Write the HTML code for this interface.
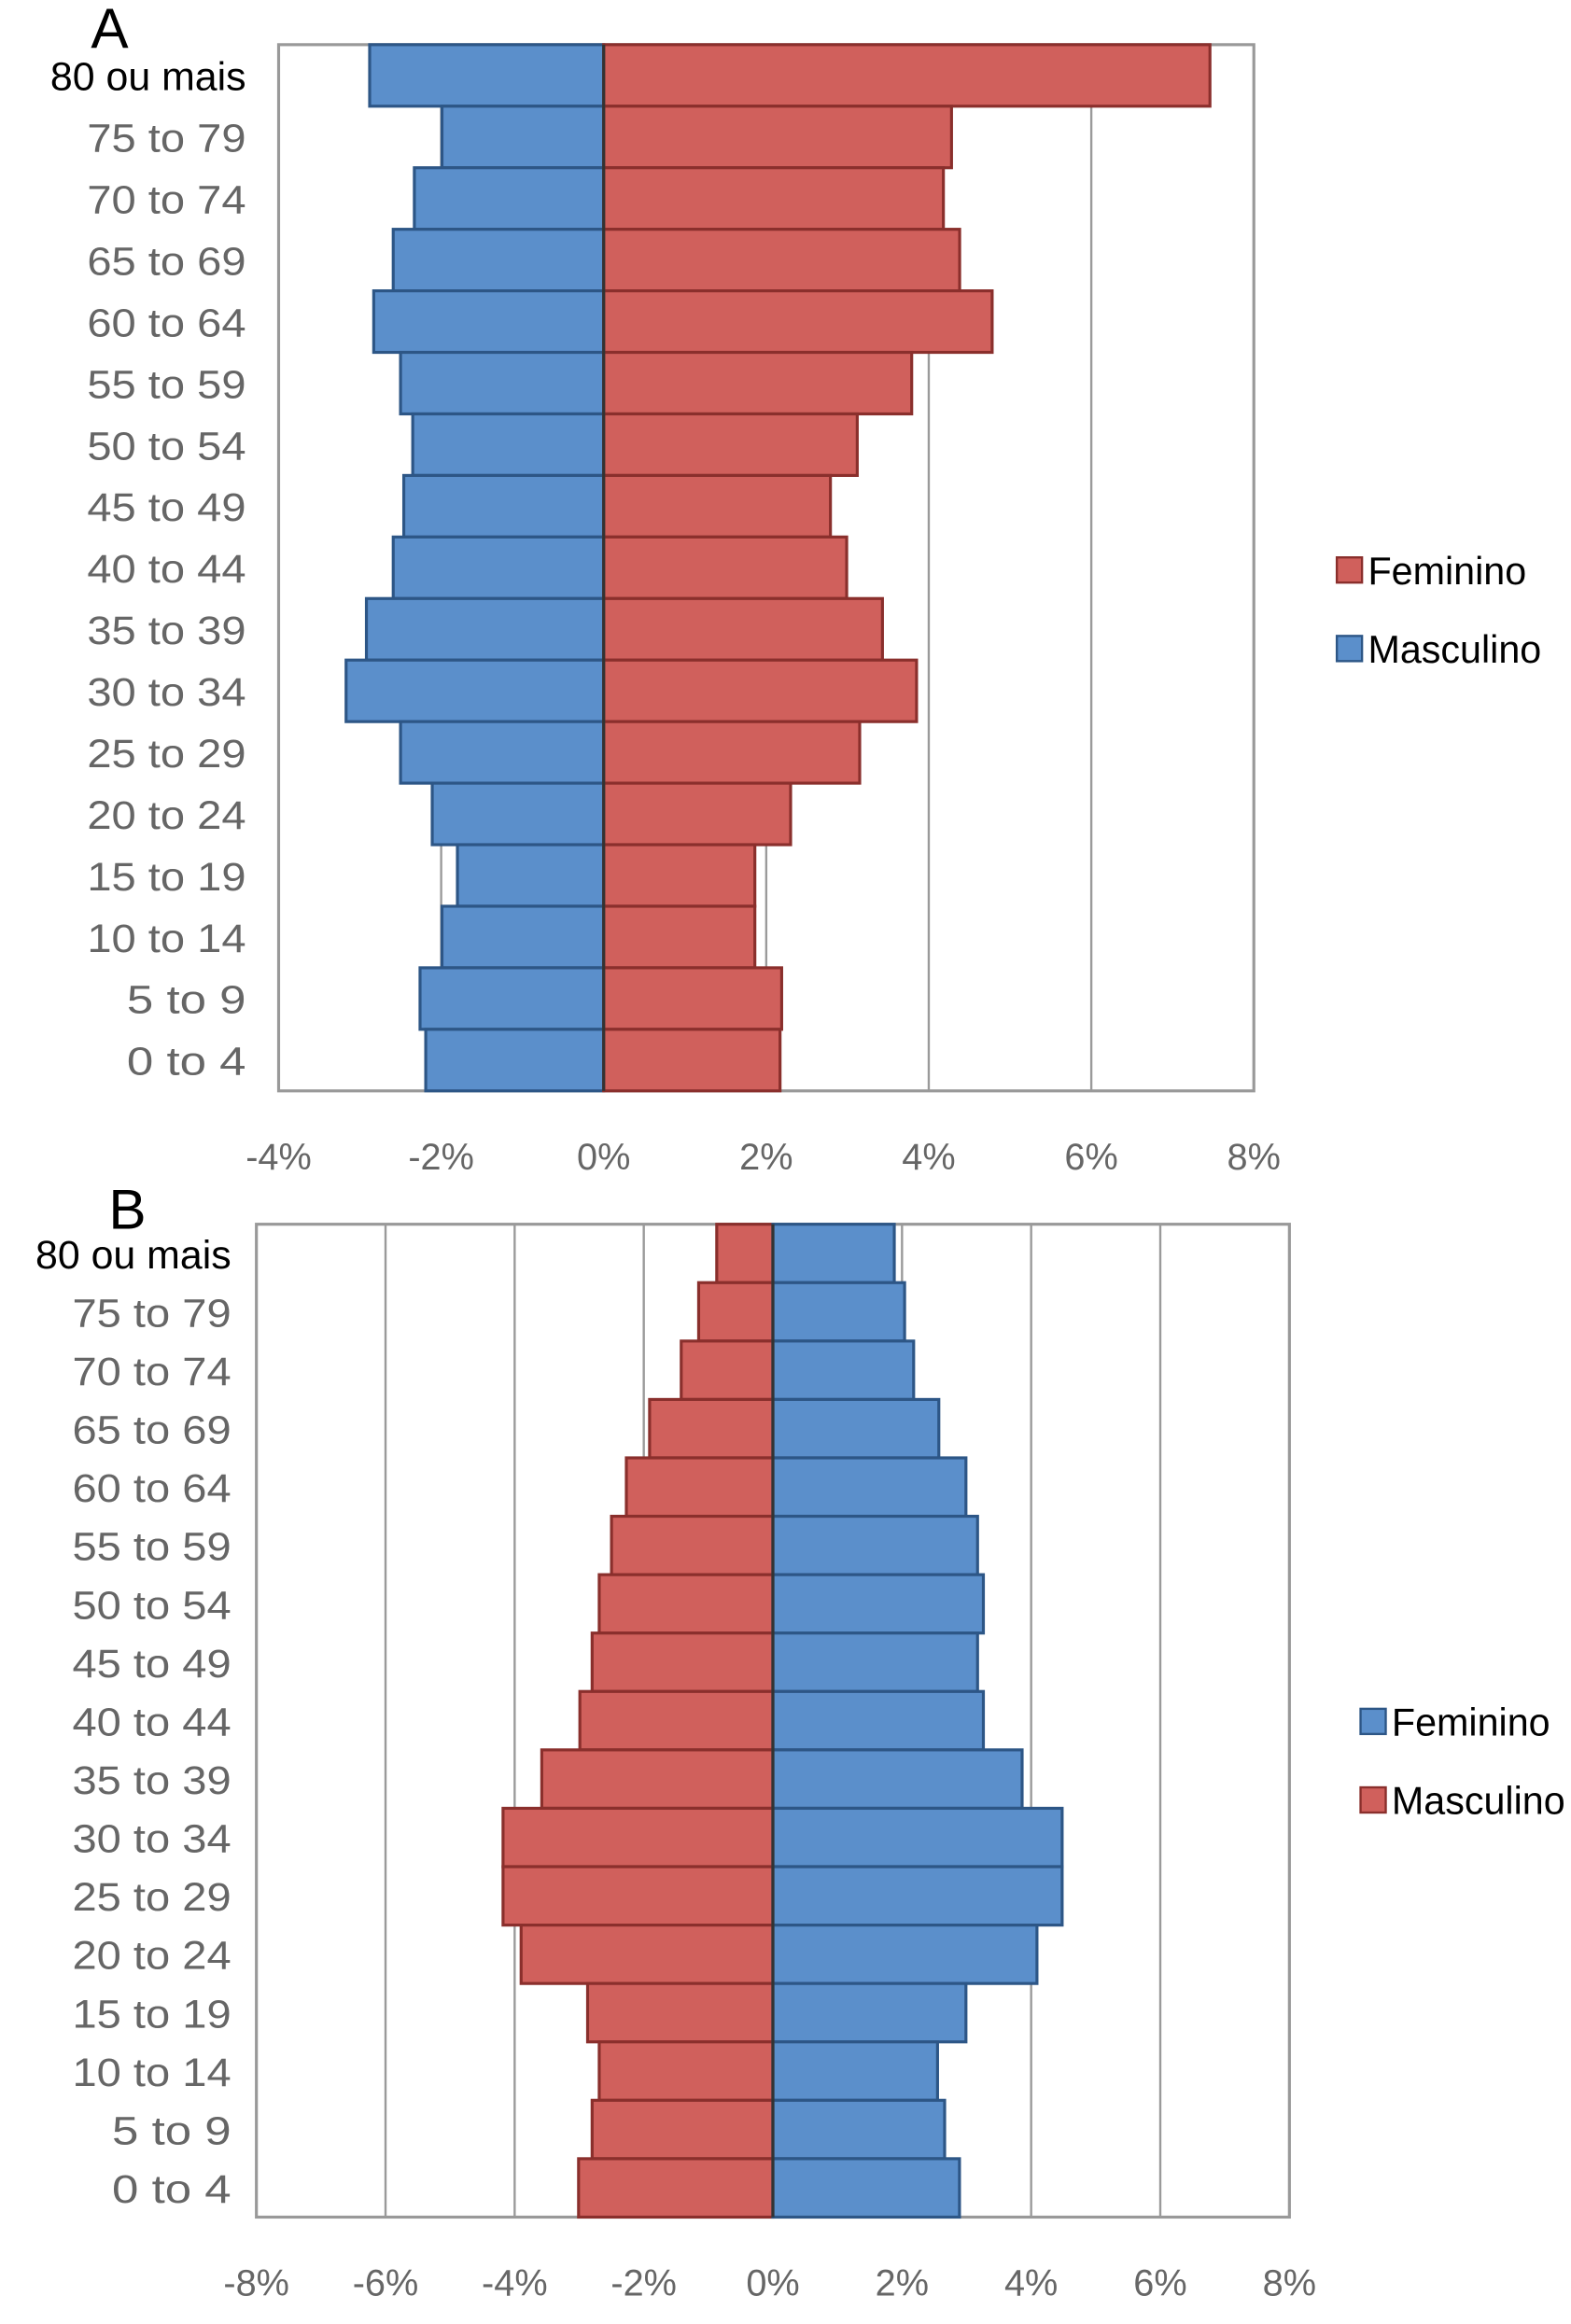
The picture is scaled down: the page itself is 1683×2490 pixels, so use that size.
<!DOCTYPE html>
<html><head><meta charset="utf-8"><style>
html,body{margin:0;padding:0;background:#fff;}
svg{display:block;}
text{font-family:"Liberation Sans",sans-serif;}
</style></head>
<body>
<svg id="chart" width="1683" height="2490" viewBox="0 0 1060 1568" xmlns="http://www.w3.org/2000/svg"></svg>
<script>
const categories = ["80 ou mais","75 to 79","70 to 74","65 to 69","60 to 64","55 to 59","50 to 54","45 to 49","40 to 44","35 to 39","30 to 34","25 to 29","20 to 24","15 to 19","10 to 14","5 to 9","0 to 4"];
const aFeminino = [7.46,4.28,4.18,4.38,4.78,3.79,3.12,2.79,2.99,3.43,3.85,3.15,2.30,1.86,1.86,2.19,2.17];
const aMasculino = [-2.88,-1.99,-2.33,-2.59,-2.83,-2.50,-2.35,-2.46,-2.59,-2.92,-3.17,-2.50,-2.11,-1.80,-1.99,-2.26,-2.19];
const bFeminino = [1.88,2.04,2.18,2.57,2.99,3.17,3.26,3.17,3.26,3.86,4.48,4.48,4.09,2.99,2.55,2.66,2.89];
const bMasculino = [-0.87,-1.15,-1.42,-1.91,-2.27,-2.50,-2.69,-2.80,-2.99,-3.58,-4.18,-4.18,-3.90,-2.87,-2.69,-2.80,-3.01];
const aTicks = [-4,-2,0,2,4,6,8];
const bTicks = [-8,-6,-4,-2,0,2,4,6,8];

const NS="http://www.w3.org/2000/svg";
const svg=document.getElementById('chart');
function mk(tag,attrs,parent){const e=document.createElementNS(NS,tag);for(const k in attrs)e.setAttribute(k,attrs[k]);(parent||svg).appendChild(e);return e;}
const RED="#d0605c",REDB="#8a2f2c",BLUE="#5b8fcb",BLUEB="#2d5686";

function panel(p){
  const g=mk('g',{});
  
  
  const xs=v=>p.x0+(v-p.tmin)/(p.tmax-p.tmin)*(p.x1-p.x0);
  const rh=(p.y1-p.y0)/categories.length;
  const ys=i=>p.y0+i*rh;
  p.ticks.forEach(t=>{
    const l=mk('line',{x1:xs(t),x2:xs(t),y1:p.y0,y2:p.y1,stroke:"#9a9a9a","stroke-width":1.5},g);
    
    
    const tx=mk('text',{x:xs(t),y:p.y1+53,"text-anchor":"middle","font-size":25,fill:"#666"},g);
    tx.textContent=t+"%";
    
    
  });
  const fr=mk('rect',{x:p.x0,y:p.y0,width:p.x1-p.x0,height:p.y1-p.y0,fill:"none",stroke:"#999","stroke-width":2},g);
  
  
  categories.forEach((c,i)=>{
    const l=p.left[i],r=p.right[i];
    const b1=mk('rect',{x:xs(l),y:ys(i),width:xs(0)-xs(l),height:rh,fill:p.leftC,stroke:p.leftB,"stroke-width":2},g);
    
    
    const b2=mk('rect',{x:xs(0),y:ys(i),width:xs(r)-xs(0),height:rh,fill:p.rightC,stroke:p.rightB,"stroke-width":2},g);
    
    
    let t;
    if(i===0){
      t=mk('text',{x:p.labX,y:ys(i)+rh/2+10,"text-anchor":"end","font-size":27,fill:"#000"},g);
    } else {
      t=mk('text',{x:p.labX,y:ys(i)+rh/2+10,"text-anchor":"end","font-size":27,fill:"#666",textLength:c.length*13.4,lengthAdjust:"spacingAndGlyphs"},g);
    }
    t.textContent=c;
    
    
  });
  const zl=mk('line',{x1:xs(0),x2:xs(0),y1:p.y0,y2:p.y1,stroke:"#333","stroke-width":2},g);
  
  
  const title=mk('text',{x:p.titleX,y:p.titleY,"text-anchor":"middle","font-size":38,fill:"#000"},g);
  title.textContent=p.title;
  
  
  p.legend.forEach((L,k)=>{
    const sq=mk('rect',{x:p.legX,y:p.legY+k*53-9,width:17,height:17,fill:L.c,stroke:L.b,"stroke-width":1.5},g);
    
    
    const lt=mk('text',{x:p.legX+21,y:p.legY+k*53+9,"font-size":26,fill:"#000"},g);
    lt.textContent=L.t;
    
    
  });
}
panel({name:'panel-a',x0:188,x1:846,y0:30,y1:736,tmin:-4,tmax:8,ticks:aTicks,left:aMasculino,right:aFeminino,
  leftC:BLUE,leftB:BLUEB,rightC:RED,rightB:REDB,labX:166,title:"A",titleX:74,titleY:32,
  legX:902,legY:385,legend:[{t:"Feminino",c:RED,b:REDB},{t:"Masculino",c:BLUE,b:BLUEB}]});
panel({name:'panel-b',x0:173,x1:870,y0:826,y1:1496,tmin:-8,tmax:8,ticks:bTicks,left:bMasculino,right:bFeminino,
  leftC:RED,leftB:REDB,rightC:BLUE,rightB:BLUEB,labX:156,title:"B",titleX:86,titleY:829,
  legX:918,legY:1162,legend:[{t:"Feminino",c:BLUE,b:BLUEB},{t:"Masculino",c:RED,b:REDB}]});
</script>
</body></html>
